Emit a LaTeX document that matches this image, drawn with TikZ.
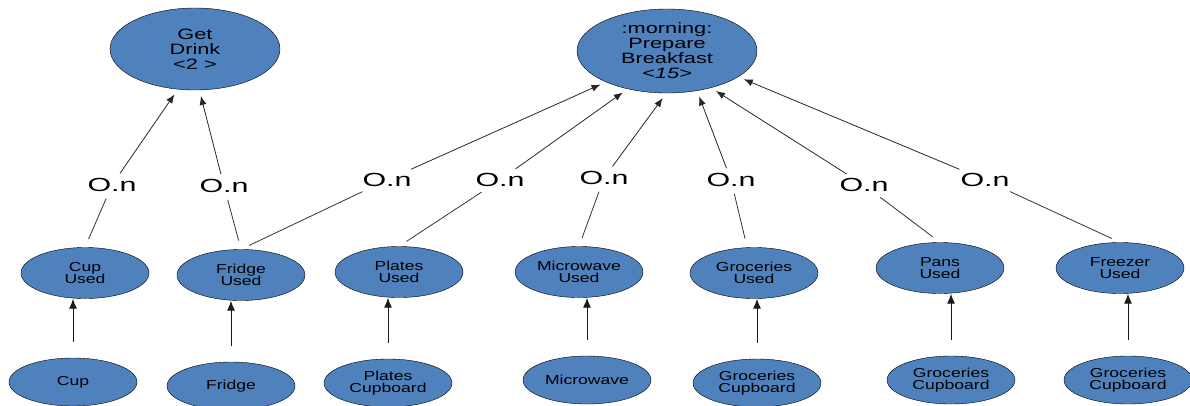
\documentclass[tikz,border=0pt]{standalone}
\usepackage{fontspec}
\setmainfont{Liberation Sans}
\newfontfamily\usedfont[FakeStretch=1.35]{Liberation Sans}
\newfontfamily\goalfont[FakeStretch=1.45]{Liberation Sans}
\newfontfamily\cardfont[FakeStretch=1.6]{Liberation Sans}
\usepackage{tikz}
\usetikzlibrary{shapes.geometric, arrows.meta}
\definecolor{taskblue}{HTML}{4F81BD}

\begin{document}
\begin{tikzpicture}[x=1pt,y=-1pt,
  goal/.style = {ellipse,draw,fill=taskblue,inner sep=0pt,align=center,
        font=\goalfont\fontsize{15}{15}\selectfont},
  res/.style = {ellipse,draw,fill=taskblue,inner sep=0pt,align=center,
        minimum width=128pt,minimum height=51pt,
        font=\usedfont\fontsize{13}{12.5}\selectfont},
  src/.style = {res,minimum height=48pt},
  card/.style = {inner sep=3pt,font=\cardfont\fontsize{19}{19}\selectfont},
  link/.style = {draw=black!80,line width=0.8pt,shorten <=9pt,shorten >=4pt},
  toparent/.style = {draw=black!85,line width=0.8pt,-{Latex[length=9pt,width=7pt]},
        shorten <=2pt,shorten >=6pt},
  up/.style = {draw=black!90,line width=1pt,-{Latex[length=10pt,width=8pt]},
        shorten <=16pt}
]
\useasboundingbox (0,0) rectangle (1190,405);
 % tasks
 \node[goal,minimum width=170pt,minimum height=82pt] (drink) at (195,49) {Get\\Drink\\<2 >};
 \node[goal,minimum width=180pt,minimum height=84pt] (bfast) at (667,51) {:morning:\\Prepare\\Breakfast\\\textit{<15>}};
 % resources used
 \node[res] (cupu)    at (85,273)   {Cup\\Used};
 \node[res] (fridgeu) at (241,275)  {Fridge\\Used};
 \node[res] (platesu) at (399,272)  {Plates\\Used};
 \node[res] (microu)  at (579,272)  {Microwave\\Used};
 \node[res] (grocu)   at (754,273)  {Groceries\\Used};
 \node[res] (pansu)   at (940,268)  {Pans\\Used};
 \node[res] (freezu)  at (1120,268) {Freezer\\Used};
 % sources
 \node[src] (cup)    at (73,382)   {Cup};
 \node[src] (fridge) at (231,386)  {Fridge};
 \node[src] (plates) at (388,383)  {Plates\\Cupboard};
 \node[src] (micro)  at (587,380)  {Microwave};
 \node[src] (groca)  at (757,383)  {Groceries\\Cupboard};
 \node[src] (grocb)  at (951,380)  {Groceries\\Cupboard};
 \node[src] (grocc)  at (1128,380) {Groceries\\Cupboard};
 % cardinalities
 \node[card] (c1) at (112,185) {O.n};
 \node[card] (c2) at (224,186) {O.n};
 \node[card] (c3) at (387,180) {O.n};
 \node[card] (c4) at (500,180) {O.n};
 \node[card] (c5) at (604,178) {O.n};
 \node[card] (c6) at (731,180) {O.n};
 \node[card] (c7) at (864,185) {O.n};
 \node[card] (c8) at (985,180) {O.n};

 \begin{scope}
  \draw[link] (cupu.north) -- (c1);
  \draw[link] (fridgeu.north) -- (c2);
  \draw[link] (fridgeu.north) -- (c3);
  \draw[link] (platesu.north) -- (c4);
  \draw[link] (microu.north) -- (c5);
  \draw[link] (grocu.105) -- (c6);
  \draw[link] (pansu.north) -- (c7);
  \draw[link] (freezu.north) -- (c8);

  \draw[toparent] (c1) -- (drink.-113);
  \draw[toparent] (c2) -- (drink.-84);
  \draw[toparent] (c3) -- (bfast.-153);
  \draw[toparent] (c4) -- (bfast.-136);
  \draw[toparent] (c5) -- (bfast.-91);
  \draw[toparent] (c6) -- (bfast.-53);
  \draw[toparent] (c7) -- (bfast.-40);
  \draw[toparent] (c8) -- (bfast.-20);

  \draw[up] (cup) -- (cup |- cupu.south);
  \draw[up] (fridge) -- (fridge |- fridgeu.south);
  \draw[up] (plates) -- (plates |- platesu.south);
  \draw[up] (micro) -- (micro |- microu.south);
  \draw[up] (groca) -- (groca |- grocu.south);
  \draw[up] (grocb) -- (grocb |- pansu.south);
  \draw[up] (grocc) -- (grocc |- freezu.south);
 \end{scope}
\end{tikzpicture}
\end{document}
